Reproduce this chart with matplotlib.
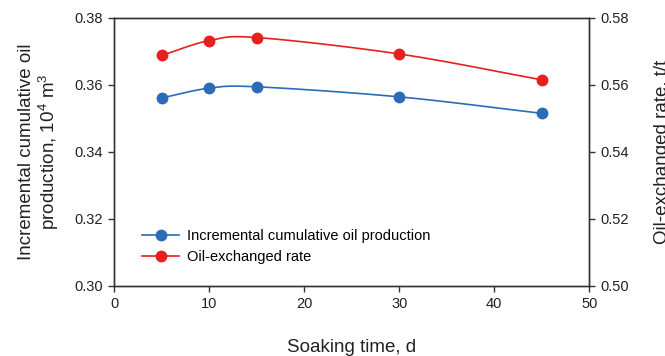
import matplotlib
matplotlib.use('Agg')
import matplotlib.pyplot as plt
import numpy as np

plt.rcParams['font.family'] = ['Liberation Sans', 'DejaVu Sans']
plt.rcParams['mathtext.fontset'] = 'custom'
plt.rcParams['mathtext.rm'] = 'Liberation Sans'

# data
soak_days = [5, 10, 15, 30, 45]
cum_oil = [0.3561, 0.3590, 0.3594, 0.3564, 0.3515]
oil_rate = [0.5688, 0.5732, 0.5741, 0.5692, 0.5615]

BLUE = '#2b6cb8'
RED = '#e5201d'


def smooth(x, y, n=30):
    """Catmull-Rom style smoothing similar to spreadsheet smoothed lines."""
    x = np.asarray(x, float)
    y = np.asarray(y, float)
    px = np.concatenate([[2 * x[0] - x[1]], x, [2 * x[-1] - x[-2]]])
    py = np.concatenate([[2 * y[0] - y[1]], y, [2 * y[-1] - y[-2]]])
    xs, ys = [], []
    for i in range(1, len(px) - 2):
        t = np.linspace(0, 1, n)
        for arr, out in ((px, xs), (py, ys)):
            p0, p1, p2, p3 = arr[i - 1], arr[i], arr[i + 1], arr[i + 2]
            m1 = (p2 - p0) / 6
            m2 = (p3 - p1) / 6
            b1 = p1 + m1
            b2 = p2 - m2
            out.extend((1 - t) ** 3 * p1 + 3 * (1 - t) ** 2 * t * b1
                       + 3 * (1 - t) * t ** 2 * b2 + t ** 3 * p2)
    return np.array(xs), np.array(ys)


fig, ax = plt.subplots(figsize=(6.65, 3.56), dpi=100)
fig.subplots_adjust(left=0.172, right=0.886, top=0.95, bottom=0.197)
ax2 = ax.twinx()

sx, sy = smooth(soak_days, cum_oil)
ax.plot(sx, sy, color=BLUE, lw=1.2)
ax.plot(soak_days, cum_oil, 'o', color=BLUE, ms=7.5)
sx, sy = smooth(soak_days, oil_rate)
ax2.plot(sx, sy, color=RED, lw=1.2)
ax2.plot(soak_days, oil_rate, 'o', color=RED, ms=7.5)

ax.set_xlim(0, 50)
ax.set_ylim(0.30, 0.38)
ax2.set_ylim(0.50, 0.58)
ax.set_xticks(np.arange(0, 51, 10))
ax.set_yticks(np.arange(0.30, 0.381, 0.02))
ax2.set_yticks(np.arange(0.50, 0.581, 0.02))
ax.yaxis.set_major_formatter(matplotlib.ticker.FormatStrFormatter('%.2f'))
ax2.yaxis.set_major_formatter(matplotlib.ticker.FormatStrFormatter('%.2f'))

for a in (ax, ax2):
    for s in a.spines.values():
        s.set_color('#333333')
        s.set_linewidth(1.0)
    a.tick_params(colors='#333333', labelsize=10.5, length=4, width=1.0,
                  labelcolor='#222222', pad=4)

ax.set_xlabel('Soaking time, d', fontsize=13.5, color='#222222', labelpad=20)
ax.set_ylabel('Incremental cumulative oil\nproduction, 10$^4$ m$^3$', fontsize=13.5,
              color='#222222', labelpad=10, linespacing=1.05)
ax2.set_ylabel('Oil-exchanged rate, t/t', fontsize=13.5, color='#222222', labelpad=18)

h1 = plt.Line2D([], [], color=BLUE, marker='o', ms=7.5, lw=1.2)
h2 = plt.Line2D([], [], color=RED, marker='o', ms=7.5, lw=1.2)
ax.legend([h1, h2], ['Incremental cumulative oil production', 'Oil-exchanged rate'],
          loc='lower left', bbox_to_anchor=(0.045, 0.06), frameon=False, fontsize=10.5,
          handlelength=2.6, labelspacing=0.45, borderaxespad=0, handletextpad=0.5)

fig.savefig('out.png', dpi=100)
